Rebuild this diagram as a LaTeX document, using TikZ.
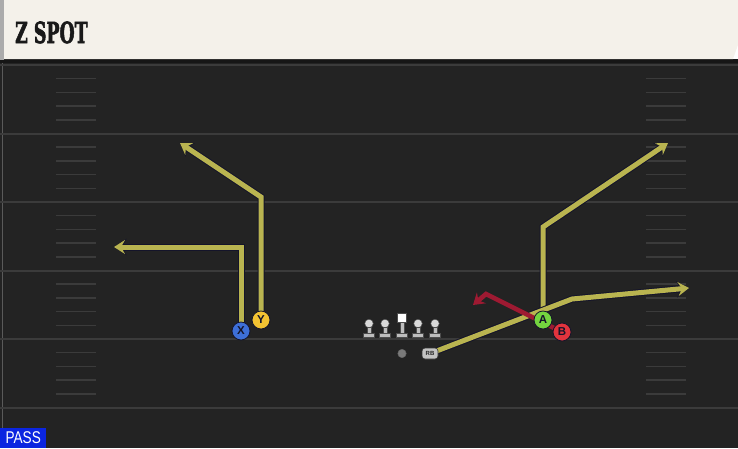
\documentclass[tikz,border=0pt]{standalone}
\usepackage{fontspec}
\setmainfont{Liberation Sans}
\newfontfamily\titlefont{DejaVu Serif}[BoldFeatures={FakeBold=2.5}]
\usetikzlibrary{arrows.meta,backgrounds}

\definecolor{fieldbg}{HTML}{232323}
\definecolor{shadowbg}{HTML}{161616}
\definecolor{headerbg}{HTML}{F4F1EA}
\definecolor{headeredge}{HTML}{ABABAB}
\definecolor{linegray}{HTML}{3B3B3B}
\definecolor{routeyellow}{HTML}{B9B450}
\definecolor{routered}{HTML}{9E1A32}
\definecolor{outline}{HTML}{14142A}
\definecolor{xblue}{HTML}{3D6FD8}
\definecolor{yyellow}{HTML}{F3C332}
\definecolor{agreen}{HTML}{74D43F}
\definecolor{bred}{HTML}{E2343D}
\definecolor{gearlight}{HTML}{D9D9D9}
\definecolor{gearstem}{HTML}{BDBDBD}
\definecolor{qbgray}{HTML}{7A7A7A}
\definecolor{passblue}{HTML}{0B25E0}

\begin{document}
\begin{tikzpicture}[
            x=1pt, y=-1pt,
            player/.style={circle, draw=outline, line width=0.8pt, minimum size=18pt, inner sep=0pt,
                font=\bfseries\fontsize{11.5}{11.5}\selectfont, text=outline},
            head/.style={circle, fill=gearlight, draw=black!70, line width=0.4pt, minimum size=8.5pt, inner sep=0pt},
            gear/.style={fill=gearstem, draw=black!70, line width=0.4pt},
            yardline/.style={draw=linegray, line width=2pt},
            hashline/.style={draw=linegray, line width=1.5pt},
            route/.style={draw=routeyellow, line width=5pt, line join=miter,
                arrows={-Stealth[length=11pt, width=14pt, inset=4pt]},
                preaction={draw=outline, line width=7pt,
                    arrows={-Stealth[length=12.5pt, width=16.5pt, inset=4.5pt]}}},
            block/.style={draw=routered, line width=4.6pt, line join=miter,
                arrows={-Stealth[length=11pt, width=14pt, inset=4pt]}}
        ]
        \useasboundingbox (0,0) rectangle (738,448);

        % Title bar
        \fill[headeredge] (0,0) rectangle (4,60);
        \fill[headerbg] (4,0) -- (738,0) -- (738,45) -- (733,59) -- (4,59) -- cycle;
        \node[anchor=base west, inner sep=0pt, xscale=0.6, text=black!90,
            font=\titlefont\bfseries\fontsize{29}{29}\selectfont] (title) at (15,43) {Z SPOT};

        % Offensive line
        \node[head] (lt) at (369,323.5) {};
        \fill[gear] (367,327) rectangle (371,333) (363.5,333) rectangle (374.5,337.5);
        \node[head] (lg) at (385,323.5) {};
        \fill[gear] (383,327) rectangle (387,333) (379.5,333) rectangle (390.5,337.5);
        \node[rectangle, fill=white, draw=black!70, line width=0.4pt, minimum size=9pt, inner sep=0pt] (c) at (402,317.5) {};
        \fill[gear] (400,322) rectangle (404,333) (396.5,333) rectangle (407.5,337.5);
        \node[head] (rg) at (418,323.5) {};
        \fill[gear] (416,327) rectangle (420,333) (412.5,333) rectangle (423.5,337.5);
        \node[head] (rt) at (435,323.5) {};
        \fill[gear] (433,327) rectangle (437,333) (429.5,333) rectangle (440.5,337.5);

        % Backfield
        \node[circle, fill=qbgray, draw=black!60, line width=0.4pt, minimum size=8.5pt, inner sep=0pt] (qb) at (402,353.5) {};
        \node[rectangle, rounded corners=3pt, fill=gearlight!90!black, draw=black!80, line width=0.6pt,
            minimum width=16pt, minimum height=11pt, inner sep=0pt, text=black!85,
            font=\bfseries\fontsize{6}{6}\selectfont] (rb) at (430,353.5) {RB};

        % Receivers
        \node[player, fill=xblue] (x) at (241,331) {X};
        \node[player, fill=yyellow] (y) at (261,320) {Y};
        \node[player, fill=agreen] (a) at (543,320) {A};
        \node[player, fill=bred] (b) at (562,332) {B};

        % Play type tag
        \node[anchor=south west, fill=passblue, text=white, minimum width=46pt, minimum height=20pt,
            inner sep=0pt, font=\fontsize{17}{17}\selectfont] (pass) at (0,448) {\scalebox{0.8}[1]{PASS}};

        % Route breaks
        \coordinate (xturn) at (241,247);
        \coordinate (xend) at (114,247);
        \coordinate (yturn) at (261,197);
        \coordinate (yend) at (180,143);
        \coordinate (aturn) at (543,227);
        \coordinate (aend) at (668,143);
        \coordinate (rbturn) at (572,299);
        \coordinate (rbend) at (689,288);
        \coordinate (bturn) at (486,294);
        \coordinate (bend) at (473,305);

        \begin{scope}[on background layer]
            % Field
            \fill[fieldbg] (0,59) rectangle (738,448);
            \fill[shadowbg] (0,59) rectangle (738,63);
            \draw[headeredge!40!fieldbg, line width=1pt] (2.5,63) -- (2.5,448);
            \foreach \yy in {65,133.5,202,270.5,339,407.5}
                \draw[yardline] (0,\yy) -- (738,\yy);
            \foreach \k in {1,2,3,4,6,7,8,9,11,12,13,14,16,17,18,19,21,22,23,24} {
                \draw[hashline] (56,65+13.7*\k) -- (96,65+13.7*\k);
                \draw[hashline] (646,65+13.7*\k) -- (686,65+13.7*\k);
            }

            % Routes
            \draw[route] (x.center) -- (xturn) -- (xend);
            \draw[route] (y.center) -- (yturn) -- (yend);
            \draw[route] (a.center) -- (aturn) -- (aend);
            \draw[route] (rb.center) -- (rbturn) -- (rbend);
            \draw[block] (b.center) -- (bturn) -- (bend);
        \end{scope}

    \end{tikzpicture}
\end{document}
